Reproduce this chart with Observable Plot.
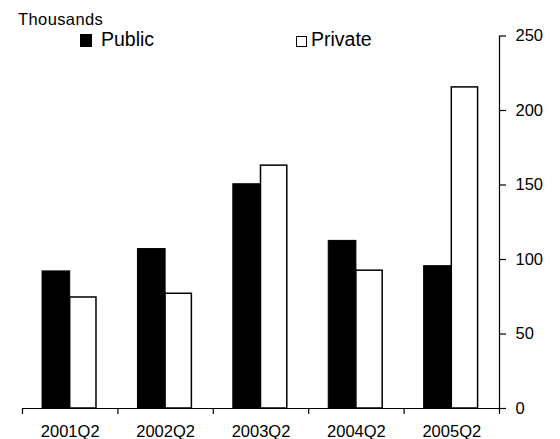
<!DOCTYPE html>
<html>
<head>
<meta charset="utf-8">
<script src="https://cdn.jsdelivr.net/npm/d3@7"></script>
<script src="https://cdn.jsdelivr.net/npm/@observablehq/plot@0.6"></script>
<style>
  body { margin: 0; background: #fff; }
  #wrap { position: relative; width: 560px; height: 439px; overflow: hidden; font-family: "Liberation Sans", Arial, sans-serif; color: #000; }
  #wrap svg { position: absolute; left: 0; top: 0; }
  .lbl { position: absolute; line-height: 1; white-space: nowrap; }
  .sw { position: absolute; box-sizing: border-box; }
</style>
</head>
<body>
<div id="wrap">
  <div class="lbl" style="left:18px;top:11px;font-size:16.5px;letter-spacing:0.4px;">Thousands</div>
  <div class="sw" style="left:80px;top:34px;width:12px;height:12.5px;background:#000;"></div>
  <div class="lbl" style="left:101px;top:29.5px;font-size:19.5px;">Public</div>
  <div class="sw" style="left:296px;top:35.5px;width:11px;height:11.5px;background:#fff;border:1.5px solid #000;"></div>
  <div class="lbl" style="left:311px;top:29.5px;font-size:19.5px;">Private</div>
</div>
<script>
const categories = ["2001Q2", "2002Q2", "2003Q2", "2004Q2", "2005Q2"];
const publicValues = [92, 107, 150.5, 112.5, 95.5];
const privateValues = [74.5, 77, 163, 92.5, 215.5];
const yTicks = [0, 50, 100, 150, 200, 250];

const barW = 0.29;
const publicRows = categories.map((c, i) => ({cat: c, i, value: publicValues[i]}));
const privateRows = categories.map((c, i) => ({cat: c, i, value: privateValues[i]}));
const n = categories.length;

const chart = Plot.plot({
  width: 560,
  height: 439,
  marginTop: 35.5,
  marginBottom: 31,
  marginLeft: 22,
  marginRight: 61,
  style: { fontFamily: '"Liberation Sans", Arial, sans-serif', fontSize: "16.5px", color: "#000", background: "transparent" },
  x: { type: "linear", domain: [0, n], axis: null },
  y: { domain: [0, 250], axis: null },
  marks: [
    Plot.rectY(publicRows, { x1: d => d.i + 0.5 - barW, x2: d => d.i + 0.5, y1: 0, y2: "value", fill: "#000", stroke: "#000", strokeWidth: 1 }),
    Plot.rectY(privateRows, { x1: d => d.i + 0.5, x2: d => d.i + 0.5 + barW * 0.95, y1: 0, y2: "value", fill: "#fff", stroke: "#000", strokeWidth: 1.5 }),
    Plot.ruleY([0], { stroke: "#000", strokeWidth: 1.2 }),
    Plot.ruleX([n], { stroke: "#000", strokeWidth: 1.2 }),
    Plot.axisX({ ticks: d3.range(0, n + 1), tickSize: 6, tickFormat: () => "", stroke: "#000", strokeWidth: 1.2 }),
    Plot.axisX({ ticks: categories.map((c, i) => i + 0.5), tickSize: 0, tickPadding: 17, tickFormat: v => categories[Math.floor(v)], label: null }),
    Plot.axisY({ anchor: "right", ticks: yTicks, tickSize: 6, tickPadding: 10, tickFormat: d3.format("d"), label: null, strokeWidth: 1.2 })
  ]
});
document.getElementById("wrap").prepend(chart);
</script>
</body>
</html>
